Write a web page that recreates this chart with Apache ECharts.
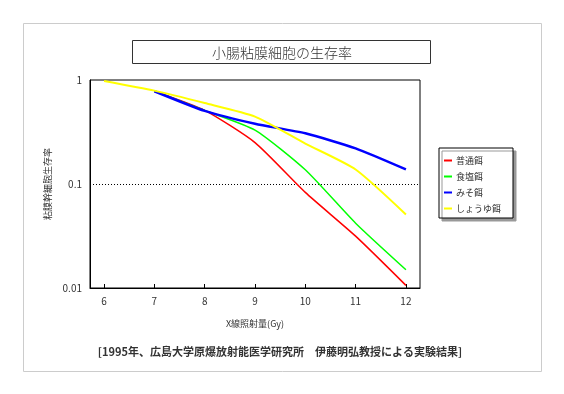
<!DOCTYPE html>
<html>
<head>
<meta charset="utf-8">
<script src="https://cdn.jsdelivr.net/npm/echarts@6/dist/echarts.min.js"></script>
<style>
html,body{margin:0;padding:0;background:#fff;}
#c{width:564px;height:394px;}
</style>
</head>
<body>
<div id="c"></div>
<script>
const doses = [6, 7, 8, 9, 10, 11, 12];
const xTicks = [6, 7, 8, 9, 10, 11, 12];
const seriesNames = ['普通餌', '食塩餌', 'みそ餌', 'しょうゆ餌'];
const normalDiet = [null, 0.78, 0.51, 0.25, 0.083, 0.0315, 0.0106];
const saltDiet = [null, 0.78, 0.51, 0.33, 0.137, 0.042, 0.015];
const misoDiet = [null, 0.78, 0.505, 0.38, 0.307, 0.22, 0.138];
const soyDiet = [0.98, 0.79, 0.60, 0.445, 0.245, 0.138, 0.051];
const titleText = '小腸粘膜細胞の生存率';
const xName = 'X線照射量(Gy)';
const yName = '粘膜幹細胞生存率';
const footText = '[1995年、広島大学原爆放射能医学研究所　伊藤明弘教授による実験結果]';

const font = '"Noto Sans CJK JP", "DejaVu Sans", sans-serif';
const colors = ['#ff0000', '#00ff00', '#0000ff', '#ffff00'];
const widths = [1.5, 1.5, 2.5, 2];
const values = [normalDiet, saltDiet, misoDiet, soyDiet];

const chart = echarts.init(document.getElementById('c'), null, {renderer: 'canvas'});
chart.setOption({
  animation: false,
  backgroundColor: '#fff',
  textStyle: {fontFamily: font},
  grid: {left: 90, right: 144, top: 80, bottom: 106, show: true, borderColor: '#000', borderWidth: 1},
  graphic: [
    {type: 'rect', shape: {x: 23.5, y: 23.5, width: 518, height: 348}, style: {fill: null, stroke: '#cccccc', lineWidth: 1}, z: -1},
    {type: 'rect', shape: {x: 132.5, y: 40.5, width: 298, height: 23}, style: {fill: '#fff', stroke: '#333', lineWidth: 1}},
    {type: 'text', x: 282, y: 53, style: {text: titleText, font: '300 14px ' + font, fill: '#333', textAlign: 'center', textVerticalAlign: 'middle'}},
    {type: 'text', x: 280, y: 352, style: {text: footText, font: 'bold 11px ' + font, fill: '#333', textAlign: 'center', textVerticalAlign: 'middle'}}
  ],
  xAxis: {
    type: 'value', min: 5.72, max: 12.28,
    name: xName, nameLocation: 'middle', nameGap: 31,
    nameTextStyle: {fontSize: 9, color: '#333', fontFamily: font},
    axisLine: {lineStyle: {color: '#000', width: 1}},
    axisTick: {show: true, inside: true, length: 4, lineStyle: {color: '#000'}, customValues: xTicks},
    axisLabel: {customValues: xTicks, fontSize: 10, color: '#333', margin: 8, fontFamily: font},
    splitLine: {show: false}
  },
  yAxis: {
    type: 'log', logBase: 10, min: 0.01, max: 1,
    name: yName, nameLocation: 'middle', nameGap: 38, nameRotate: 90,
    nameTextStyle: {fontSize: 9, color: '#333', fontFamily: font},
    axisLine: {lineStyle: {color: '#000', width: 1}},
    axisTick: {show: false},
    axisLabel: {fontSize: 10, color: '#333', margin: 8, fontFamily: font, formatter: v => String(v)},
    splitLine: {show: true, showMinLine: false, showMaxLine: false, lineStyle: {color: '#000', type: [1, 2], width: 1}}
  },
  legend: {
    orient: 'vertical', left: 439, top: 148,
    padding: [8, 12, 5, 5], itemGap: 7,
    itemWidth: 8, itemHeight: 2, icon: 'rect',
    backgroundColor: '#fff', borderColor: '#000', borderWidth: 1,
    shadowColor: '#999', shadowBlur: 0, shadowOffsetX: 3, shadowOffsetY: 3,
    textStyle: {fontSize: 9, color: '#333', fontFamily: font, padding: [0, 0, 0, -1]},
    data: seriesNames
  },
  series: seriesNames.map((n, i) => ({
    name: n, type: 'line', showSymbol: false, symbol: 'none', smooth: 0.2,
    data: doses.map((d, j) => [d, values[i][j]]),
    itemStyle: {color: colors[i]},
    lineStyle: {color: colors[i], width: widths[i]}
  }))
});
</script>
</body>
</html>
